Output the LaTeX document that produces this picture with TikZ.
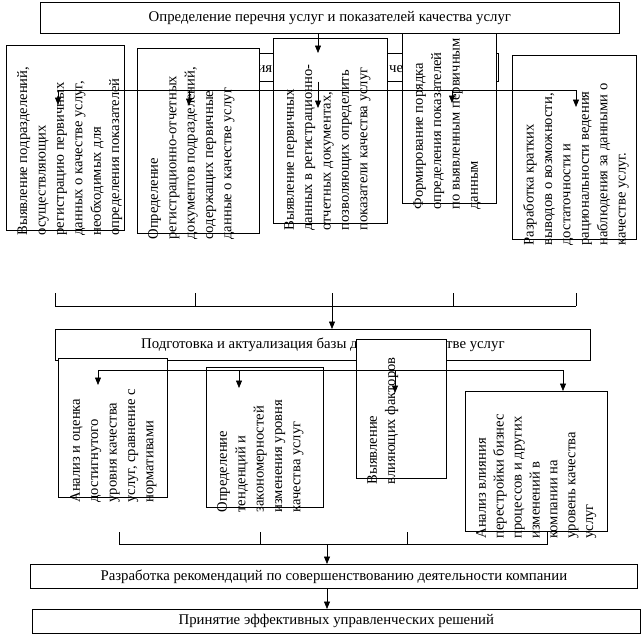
\documentclass[tikz,border=0pt]{standalone}
\usepackage{fontspec}
\setmainfont{Liberation Serif}
\usetikzlibrary{arrows.meta}
\begin{document}
\begin{tikzpicture}[x=1pt,y=-1pt,
  box/.style={draw, fill=white, line width=0.7pt, inner sep=0pt, anchor=north west},
  vtxt/.style={rotate=90, anchor=north west, align=left, inner sep=0pt, font=\fontsize{14.6}{18.4}\selectfont},
  htxt/.style={font=\fontsize{14.8}{16}\selectfont, inner sep=0pt},
  arr/.style={line width=0.7pt, -{Triangle[length=7.5pt,width=6pt]}},
  ln/.style={line width=0.7pt}]
\useasboundingbox[fill=white] (0,0) rectangle (642,635);

% ---------- row 1 ----------
\node[box, minimum width=298, minimum height=28] (hid) at (200,53) {};
\node[htxt, anchor=base east] (hia) at (272.5,72) {ия};
\node[htxt, anchor=base west] (hic) at (389,72) {че};

\node[box, minimum width=94, minimum height=183] (b4) at (402,20) {};
\node[vtxt] (t4) at ([xshift=11,yshift=-6]b4.south west) {Формирование порядка\\определения показателей\\по выявленным первичным\\данным};

\node[box, minimum width=118, minimum height=185] (b1) at (6,45) {};
\node[vtxt] (t1) at ([xshift=11,yshift=-5]b1.south west) {Выявление подразделений,\\осуществляющих\\регистрацию первичных\\данных о качестве услуг,\\необходимых для\\определения показателей};

\node[box, minimum width=122, minimum height=185] (b2) at (137,48) {};
\node[vtxt] (t2) at ([xshift=11,yshift=-6]b2.south west) {Определение\\регистрационно-отчетных\\документов подразделений,\\содержащих первичные\\данные о качестве услуг};

\node[box, minimum width=114, minimum height=185] (b3) at (273,38) {};
\node[vtxt] (t3) at ([xshift=11,yshift=-7]b3.south west) {Выявление первичных\\данных в регистрационно-\\отчетных документах,\\позволяющих определить\\показатели качества услуг};

\node[box, minimum width=124, minimum height=184] (b5) at (512,55) {};
\node[vtxt] (t5) at ([xshift=11,yshift=-6]b5.south west) {Разработка кратких\\выводов о возможности,\\достаточности и\\рациональности ведения\\наблюдения за данными о\\качестве услуг.};

\node[box, minimum width=579, minimum height=31] (top) at (40,2) {};
\node[htxt] (tt) at (top.center) {Определение перечня услуг и показателей качества услуг};

% row 1 connectors
\coordinate (c0) at (318,53);
\draw[arr] (top.south -| c0) -- (c0);
\coordinate (h0) at (318,90);
\draw[ln] (hid.south -| h0) -- (h0);
\coordinate (hl) at (58,90);
\coordinate (hr) at (576,90);
\draw[ln] (hl) -- (hr);
\coordinate (a1) at (58,105);
\coordinate (a2) at (189,106);
\coordinate (a3) at (318,108);
\coordinate (a4) at (452,103);
\coordinate (a5) at (576,107);
\draw[arr] (hl) -- (a1);
\draw[arr] (hl -| a2) -- (a2);
\draw[arr] (h0) -- (a3);
\draw[arr] (hl -| a4) -- (a4);
\draw[arr] (hr) -- (a5);

% bracket 1
\coordinate (k1) at (55,306);
\coordinate (k5) at (576,306);
\draw[ln] (k1) -- (k5);
\foreach \x in {55,195,332,453,576} \draw[ln] (\x,293) -- (\x,306);

% ---------- row 2 ----------
\node[box, minimum width=535, minimum height=31] (prep) at (55,329) {};
\node[htxt] (tp) at (prep.center) {Подготовка и актуализация базы данных о качестве услуг};
\coordinate (k3) at (332,306);
\draw[arr] (k3) -- (prep.north -| k3);

\node[box, minimum width=109, minimum height=139] (bA) at (58,358) {};
\node[vtxt] (tA) at ([xshift=12,yshift=-5]bA.south west) {Анализ и оценка\\достигнутого\\уровня качества\\услуг, сравнение с\\нормативами};

\node[box, minimum width=117, minimum height=140] (bB) at (206,367) {};
\node[vtxt] (tB) at ([xshift=11,yshift=-5]bB.south west) {Определение\\тенденций и\\закономерностей\\изменения уровня\\качества услуг};

\node[box, minimum width=90, minimum height=139] (bC) at (356,339) {};
\node[vtxt] (tC) at ([xshift=11,yshift=-6]bC.south west) {Выявление\\влияющих факторов};

\node[box, minimum width=142, minimum height=140] (bD) at (465,391) {};
\node[vtxt, font=\fontsize{14.6}{17.9}\selectfont] (tD) at ([xshift=11,yshift=-7]bD.south west) {Анализ влияния\\перестройки бизнес\\процессов и других\\изменений в\\компании на\\уровень качества\\услуг};

% row 2 connectors
\coordinate (m1) at (98,370);
\coordinate (m4) at (563,370);
\draw[ln] (m1) -- (m4);
\coordinate (d1) at (98,385);
\coordinate (d2) at (239,388);
\coordinate (d3) at (395,393);
\draw[arr] (m1) -- (d1);
\draw[arr] (m1 -| d2) -- (d2);
\draw[arr] (m1 -| d3) -- (d3);
\draw[arr] (m4) -- (bD.north -| m4);

% bracket 2
\coordinate (n1) at (119,544);
\coordinate (n4) at (547,544);
\draw[ln] (bD.south -| n4) -- (n4) -- (n1);
\foreach \x in {119,260,407} \draw[ln] (\x,532) -- (\x,544);

% ---------- bottom ----------
\node[box, minimum width=607, minimum height=24] (rec) at (30,564) {};
\node[htxt] (tr) at (rec.center) {Разработка рекомендаций по совершенствованию деятельности компании};
\coordinate (n3) at (327,544);
\draw[arr] (n3) -- (rec.north -| n3);

\node[box, minimum width=608, minimum height=24] (dec) at (32,609) {};
\node[htxt] (td) at (dec.center) {Принятие эффективных управленческих решений};
\draw[arr] (rec.south -| n3) -- (dec.north -| n3);
\end{tikzpicture}
\end{document}
